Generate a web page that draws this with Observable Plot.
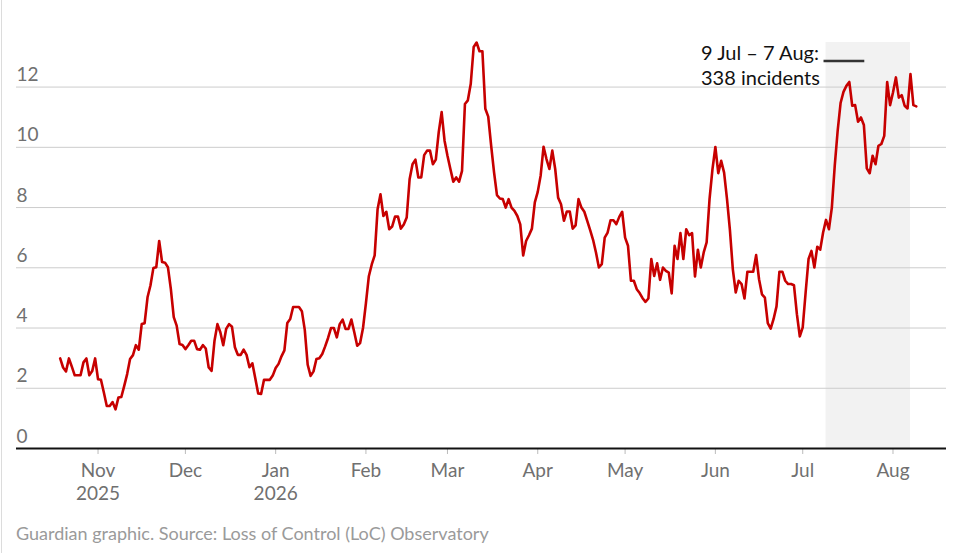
<!DOCTYPE html>
<html><head><meta charset="utf-8">
<script src="https://cdn.jsdelivr.net/npm/d3@7"></script>
<script src="https://cdn.jsdelivr.net/npm/@observablehq/plot@0.6"></script>
<style>
body{margin:0;background:#fff;font-family:Lato,sans-serif;}
#wrap{position:relative;width:958px;height:553px;overflow:hidden;}
#edge{position:absolute;left:1px;top:0;width:1px;height:553px;background:#dcdcdc;}
#caption{position:absolute;left:16px;top:522px;font-size:18px;line-height:22px;color:#9a9a9a;white-space:nowrap;}
</style></head><body>
<div id="wrap"><div id="edge"></div><div id="chart"></div><div id="caption">Guardian graphic. Source: Loss of Control (LoC) Observatory</div></div>
<script>
// Daily values (rolling average of incidents per day)
const oct2025 = [2.99, 2.69, 2.56, 2.99, 2.72, 2.43, 2.43, 2.43, 2.86, 2.99, 2.43, 2.57, 2.99]; // from 19 Oct
const nov2025 = [2.30, 2.28, 1.86, 1.41, 1.41, 1.54, 1.30, 1.69, 1.71, 2.08, 2.47, 2.97, 3.10, 3.43, 3.28, 4.13, 4.16, 5.02, 5.41, 5.99, 6.02, 6.89, 6.19, 6.17, 6.02, 5.30, 4.36, 4.08, 3.47, 3.44];
const dec2025 = [3.30, 3.43, 3.58, 3.58, 3.30, 3.28, 3.43, 3.32, 2.69, 2.58, 3.58, 4.13, 3.86, 3.43, 3.97, 4.13, 4.04, 3.36, 3.11, 3.11, 3.28, 3.11, 2.70, 2.83, 2.33, 1.83, 1.81, 2.28, 2.28, 2.28, 2.42];
const jan2026 = [2.67, 2.81, 3.06, 3.26, 4.17, 4.30, 4.70, 4.70, 4.70, 4.56, 3.94, 2.78, 2.41, 2.56, 2.97, 3.00, 3.14, 3.39, 3.67, 4.00, 4.00, 3.69, 4.13, 4.28, 3.97, 3.97, 4.28, 3.86, 3.41, 3.50, 4.00];
const feb2026 = [4.83, 5.72, 6.11, 6.41, 7.94, 8.44, 7.72, 7.86, 7.28, 7.37, 7.70, 7.70, 7.30, 7.44, 7.67, 8.94, 9.44, 9.59, 9.00, 9.00, 9.74, 9.89, 9.89, 9.44, 9.59, 10.50, 11.17, 10.22];
const mar2026 = [9.72, 9.28, 8.86, 9.00, 8.86, 9.22, 11.44, 11.56, 12.11, 13.33, 13.48, 13.19, 13.19, 11.28, 11.02, 10.06, 9.17, 8.41, 8.30, 8.28, 8.00, 8.28, 8.00, 7.89, 7.72, 7.44, 6.41, 6.89, 7.08, 7.30, 8.17];
const apr2026 = [8.52, 9.06, 10.02, 9.61, 9.28, 9.89, 9.28, 8.33, 8.11, 7.56, 7.87, 7.87, 7.30, 7.41, 8.28, 8.00, 7.86, 7.56, 7.25, 6.93, 6.51, 6.01, 6.12, 7.00, 7.17, 7.58, 7.58, 7.45, 7.69, 7.86];
const may2026 = [7.00, 6.73, 5.57, 5.57, 5.29, 5.16, 4.99, 4.87, 4.98, 6.29, 5.73, 6.15, 5.60, 6.01, 5.90, 5.84, 5.15, 6.73, 6.29, 7.15, 6.29, 7.28, 7.08, 7.15, 5.71, 6.60, 6.01, 6.51, 6.84, 8.28, 9.27];
const jun2026 = [10.01, 9.14, 9.55, 9.16, 8.28, 7.25, 5.95, 5.18, 5.57, 5.46, 4.98, 5.87, 5.87, 5.87, 6.42, 5.62, 5.12, 5.01, 4.16, 3.98, 4.30, 4.72, 5.87, 5.87, 5.57, 5.46, 5.46, 5.42, 4.46, 3.72];
const jul2026 = [4.02, 5.18, 6.29, 6.56, 6.01, 6.70, 6.60, 7.17, 7.59, 7.28, 8.00, 9.39, 10.55, 11.47, 11.84, 12.04, 12.17, 11.38, 11.40, 10.85, 10.99, 10.74, 9.30, 9.14, 9.72, 9.44, 10.05, 10.11, 10.38, 12.17, 11.40];
const aug2026 = [11.82, 12.32, 11.65, 11.73, 11.38, 11.29, 12.43, 11.40, 11.36]; // to 9 Aug

const monthStarts = ["2025-10-19", "2025-11-01", "2025-12-01", "2026-01-01", "2026-02-01", "2026-03-01", "2026-04-01", "2026-05-01", "2026-06-01", "2026-07-01", "2026-08-01"];
const monthValues = [oct2025, nov2025, dec2025, jan2026, feb2026, mar2026, apr2026, may2026, jun2026, jul2026, aug2026];

const yTicks = [0, 2, 4, 6, 8, 10, 12];
const xTickMonths = ["2025-11-01", "2025-12-01", "2026-01-01", "2026-02-01", "2026-03-01", "2026-04-01", "2026-05-01", "2026-06-01", "2026-07-01", "2026-08-01"];
const yearTicks = ["2025-11-01", "2026-01-01"];

const highlight = [{start: new Date("2026-07-09"), end: new Date("2026-08-07"), label: "9 Jul – 7 Aug:\n338 incidents"}];

const data = monthStarts.flatMap((s, k) => monthValues[k].map((v, i) => ({date: d3.utcDay.offset(new Date(s), i), value: v})));

const yMax = 13.48;
const font = "Lato, sans-serif";

const chart = Plot.plot({
  width: 958,
  height: 515,
  marginLeft: 16,
  marginRight: 12,
  marginTop: 42,
  marginBottom: 67,
  style: {fontFamily: font, background: "transparent", overflow: "visible"},
  x: {type: "utc", domain: [new Date("2025-10-04"), new Date("2026-08-19T09:00:00Z")]},
  y: {domain: [0, yMax]},
  marks: [
    Plot.rect(highlight, {x1: "start", x2: "end", fill: "#f2f2f2"}),
    Plot.gridY(yTicks.filter(d => d > 0), {stroke: "#cccccc", strokeOpacity: 1}),
    Plot.axisY({ticks: yTicks, tickSize: 0, tickPadding: 0, textAnchor: "start", lineAnchor: "bottom", dy: -6, fill: "#707070", fontSize: 19, label: null}),
    Plot.axisX({ticks: xTickMonths.map(d => new Date(d)), tickSize: 6, tickPadding: 9, tickFormat: d3.utcFormat("%b"), stroke: "#bbbbbb", fill: "#707070", fontSize: 19, label: null}),
    Plot.axisX({ticks: yearTicks.map(d => new Date(d)), tickSize: 0, tickPadding: 38, tickFormat: d3.utcFormat("%Y"), fill: "#707070", fontSize: 19, label: null}),
    Plot.ruleY([0], {stroke: "#121212", strokeWidth: 2}),
    Plot.line(data, {x: "date", y: "value", stroke: "#c70000", strokeWidth: 2.6, strokeLinejoin: "round"}),
    Plot.text(highlight, {x: "start", frameAnchor: "top", text: "label", textAnchor: "start", lineAnchor: "top", dx: -125, dy: 0, lineHeight: 1.25, fontSize: 20, fill: "#121212"}),
    Plot.ruleY(highlight, {x1: "start", x2: d => d3.utcDay.offset(d.start, 14), y: () => yMax, dy: 18.5, dx: -2, stroke: "#333333", strokeWidth: 2.5})
  ]
});
document.getElementById("chart").appendChild(chart);
</script>
</body></html>
